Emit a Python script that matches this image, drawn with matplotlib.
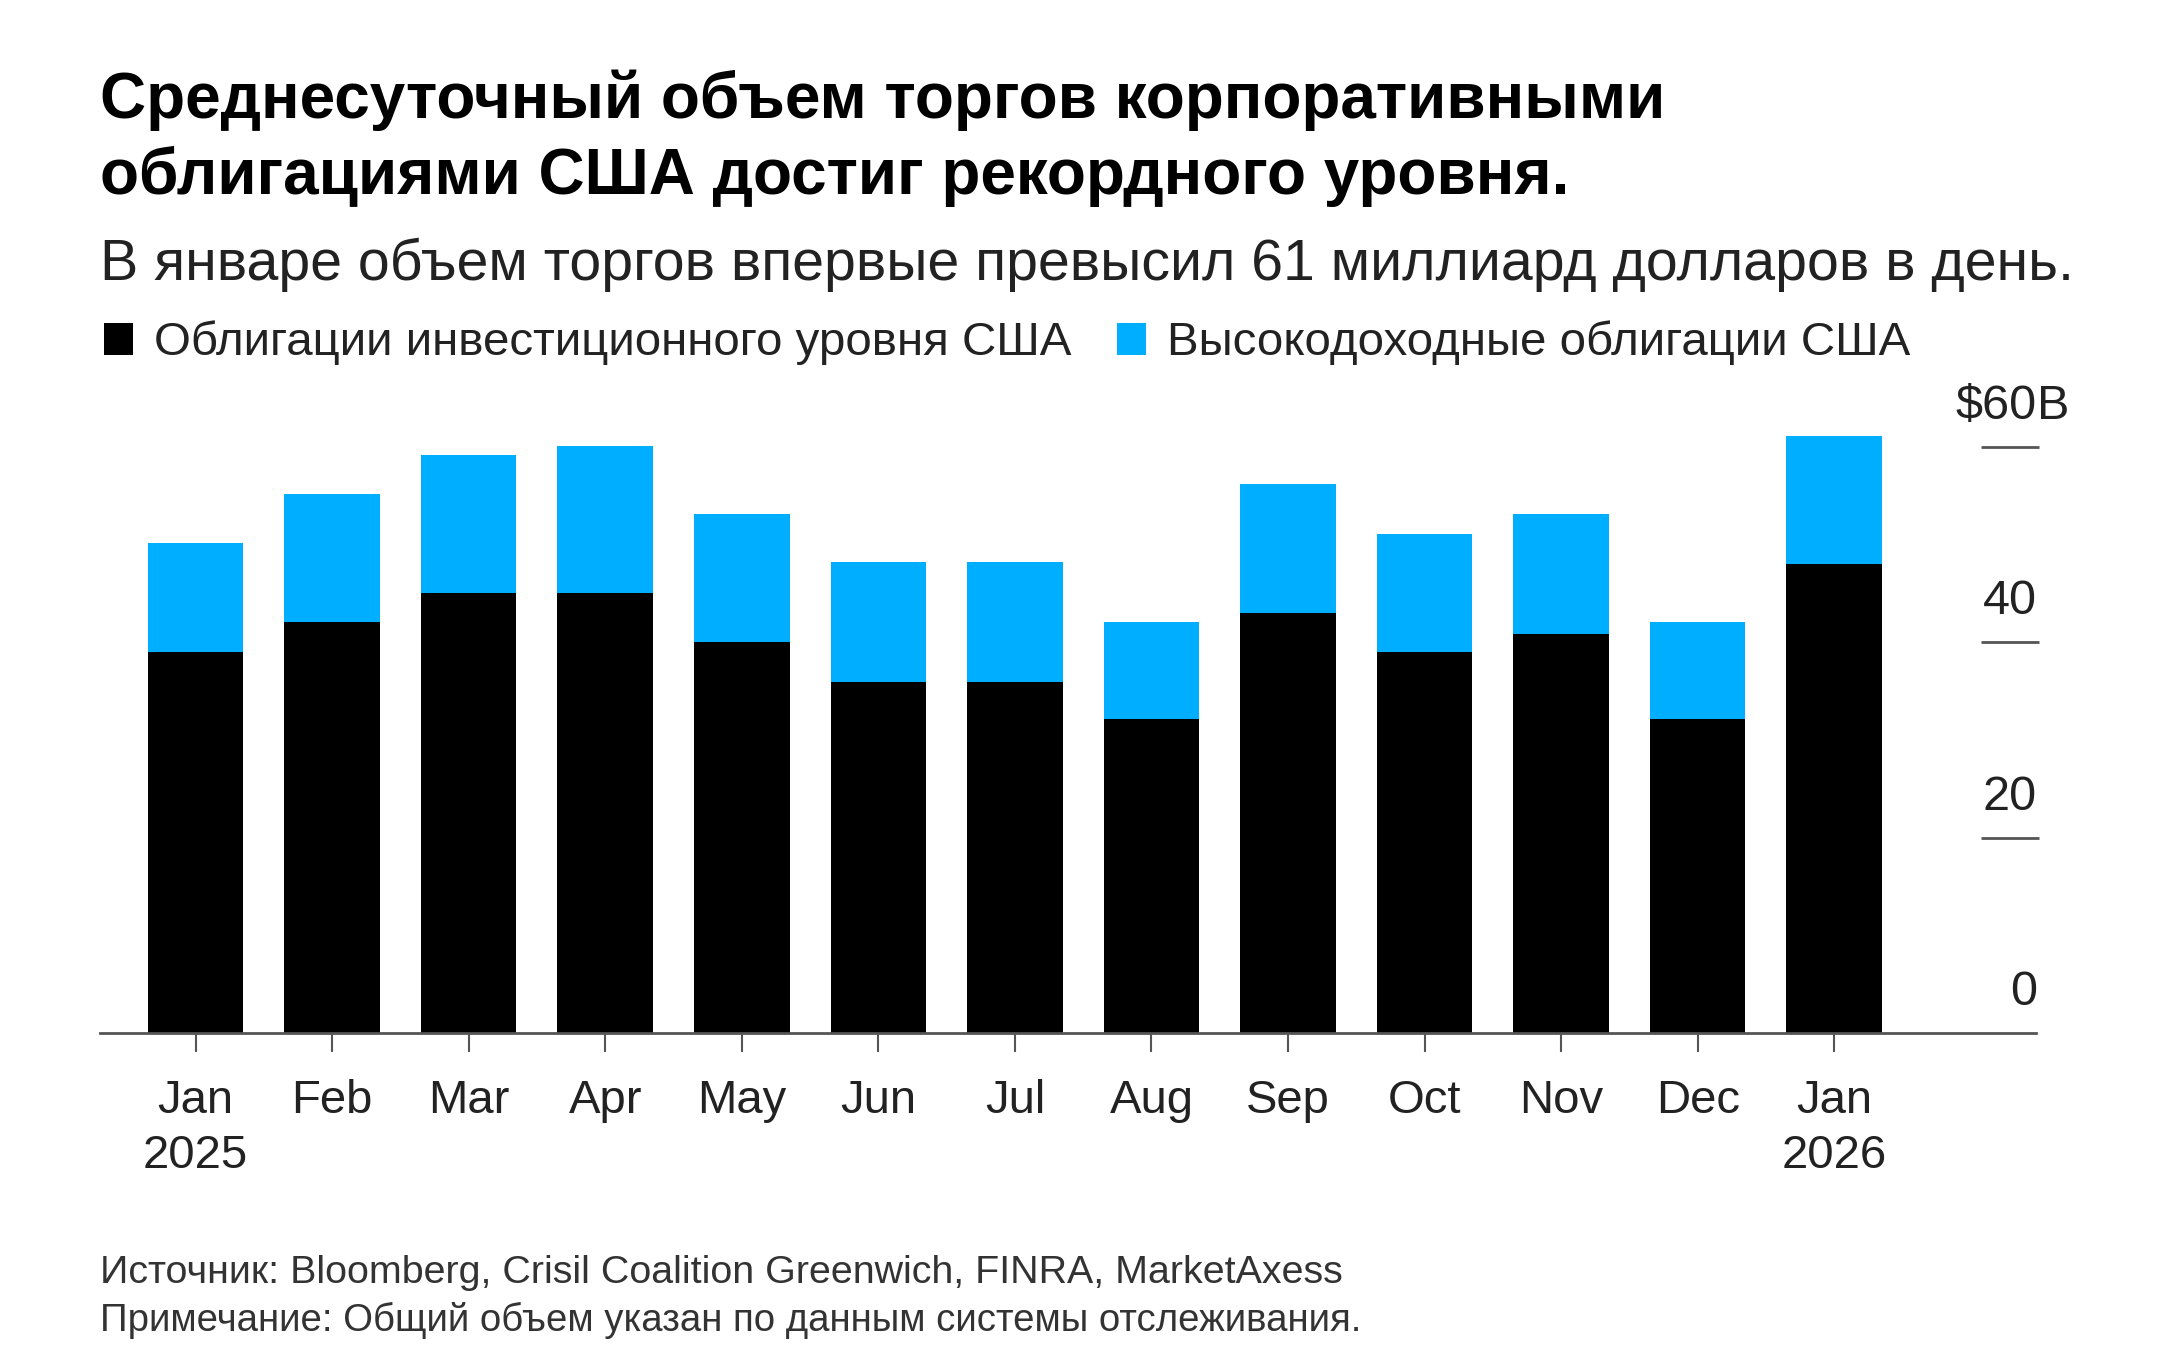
import matplotlib
matplotlib.use("Agg")
import matplotlib.pyplot as plt
import matplotlib.transforms as mtransforms
import numpy as np

plt.rcParams.update({"font.family": ["Liberation Sans", "DejaVu Sans"]})

# ---- data (billions of dollars, average daily volume)
months = ["Jan\n2025", "Feb", "Mar", "Apr", "May", "Jun", "Jul", "Aug",
          "Sep", "Oct", "Nov", "Dec", "Jan\n2026"]
ig = [39.0, 42.0, 45.0, 45.0, 40.0, 35.9, 35.9, 32.1, 43.0, 39.0, 40.8, 32.1, 48.0]
total = [50.1, 55.1, 59.1, 60.1, 53.1, 48.2, 48.2, 42.0, 56.2, 51.1, 53.1, 42.0, 61.1]
hy = [t - i for t, i in zip(total, ig)]
yticks = [0, 20, 40, 60]
ylabels = ["0", "20", "40", "$60"]
yunit = "B"

title = ("Среднесуточный объем торгов корпоративными\n"
         "облигациями США достиг рекордного уровня.")
subtitle = "В январе объем торгов впервые превысил 61 миллиард долларов в день."
lab_ig = "Облигации инвестиционного уровня США"
lab_hy = "Высокодоходные облигации США"
source = "Источник: Bloomberg, Crisil Coalition Greenwich, FINRA, MarketAxess"
note = "Примечание: Общий объем указан по данным системы отслеживания."

BLUE = "#00AEFF"
W, H = 2160, 1351

fig = plt.figure(figsize=(W / 100, H / 100), dpi=100)
ax = fig.add_axes([100 / W, 318 / H, (2039 - 100) / W, 606 / H])

x = np.arange(len(months))
b1 = ax.bar(x, ig, width=0.70, color="black", label=lab_ig)
b2 = ax.bar(x, hy, width=0.70, bottom=ig, color=BLUE, label=lab_hy)

ax.set_xlim(-0.70, 13.50)
ax.set_ylim(0, 62)
for s in ["top", "left", "right"]:
    ax.spines[s].set_visible(False)
ax.spines["bottom"].set_color("#555555")
ax.spines["bottom"].set_linewidth(2.0)
ax.spines["bottom"].set_bounds(-0.70, 13.48)

ax.set_xticks(x)
ax.set_xticklabels(months, fontsize=34, color="#222222", linespacing=1.32)
ax.tick_params(axis="x", length=14, width=1.5, color="#555555", pad=19)

# right-hand ticks drawn inward, labels sit above each tick
ax.yaxis.tick_right()
ax.set_yticks(yticks[1:])
ax.tick_params(axis="y", direction="in", length=42, width=2.0, color="#555555",
               labelright=False)
trans = mtransforms.offset_copy(ax.get_yaxis_transform(), fig=fig, y=29, units="points")
for v, lab in zip(yticks, ylabels):
    ax.text(0.999, v, lab, transform=trans, ha="right", va="center",
            fontsize=35, color="#222222")
# unit hangs past the right edge of the top label
ax.text(0.999, yticks[-1], yunit, transform=trans, ha="left", va="center",
        fontsize=35, color="#222222")

# titles
fig.text(100 / W, 1 - 118 / H, title.split("\n")[0], fontsize=46, fontweight="bold",
         va="baseline", color="black")
fig.text(100 / W, 1 - 194 / H, title.split("\n")[1], fontsize=46, fontweight="bold",
         va="baseline", color="black")
fig.text(100 / W, 1 - 280 / H, subtitle, fontsize=41.2, va="baseline", color="#222222")

fig.legend(handles=[b1, b2], labels=[lab_ig, lab_hy], loc="center left",
           bbox_to_anchor=(104 / W, 1 - 343 / H), ncol=2, frameon=False,
           fontsize=34.2, labelcolor="#222222", handlelength=0.62, handleheight=0.66,
           handletextpad=0.44, columnspacing=0.95, borderpad=0, borderaxespad=0)

fig.text(100 / W, 1 - 1283 / H, source, fontsize=28.4, va="baseline", color="#333333")
fig.text(100 / W, 1 - 1331 / H, note, fontsize=27.6, va="baseline", color="#333333")

fig.savefig("out.png", dpi=100, facecolor="white")
